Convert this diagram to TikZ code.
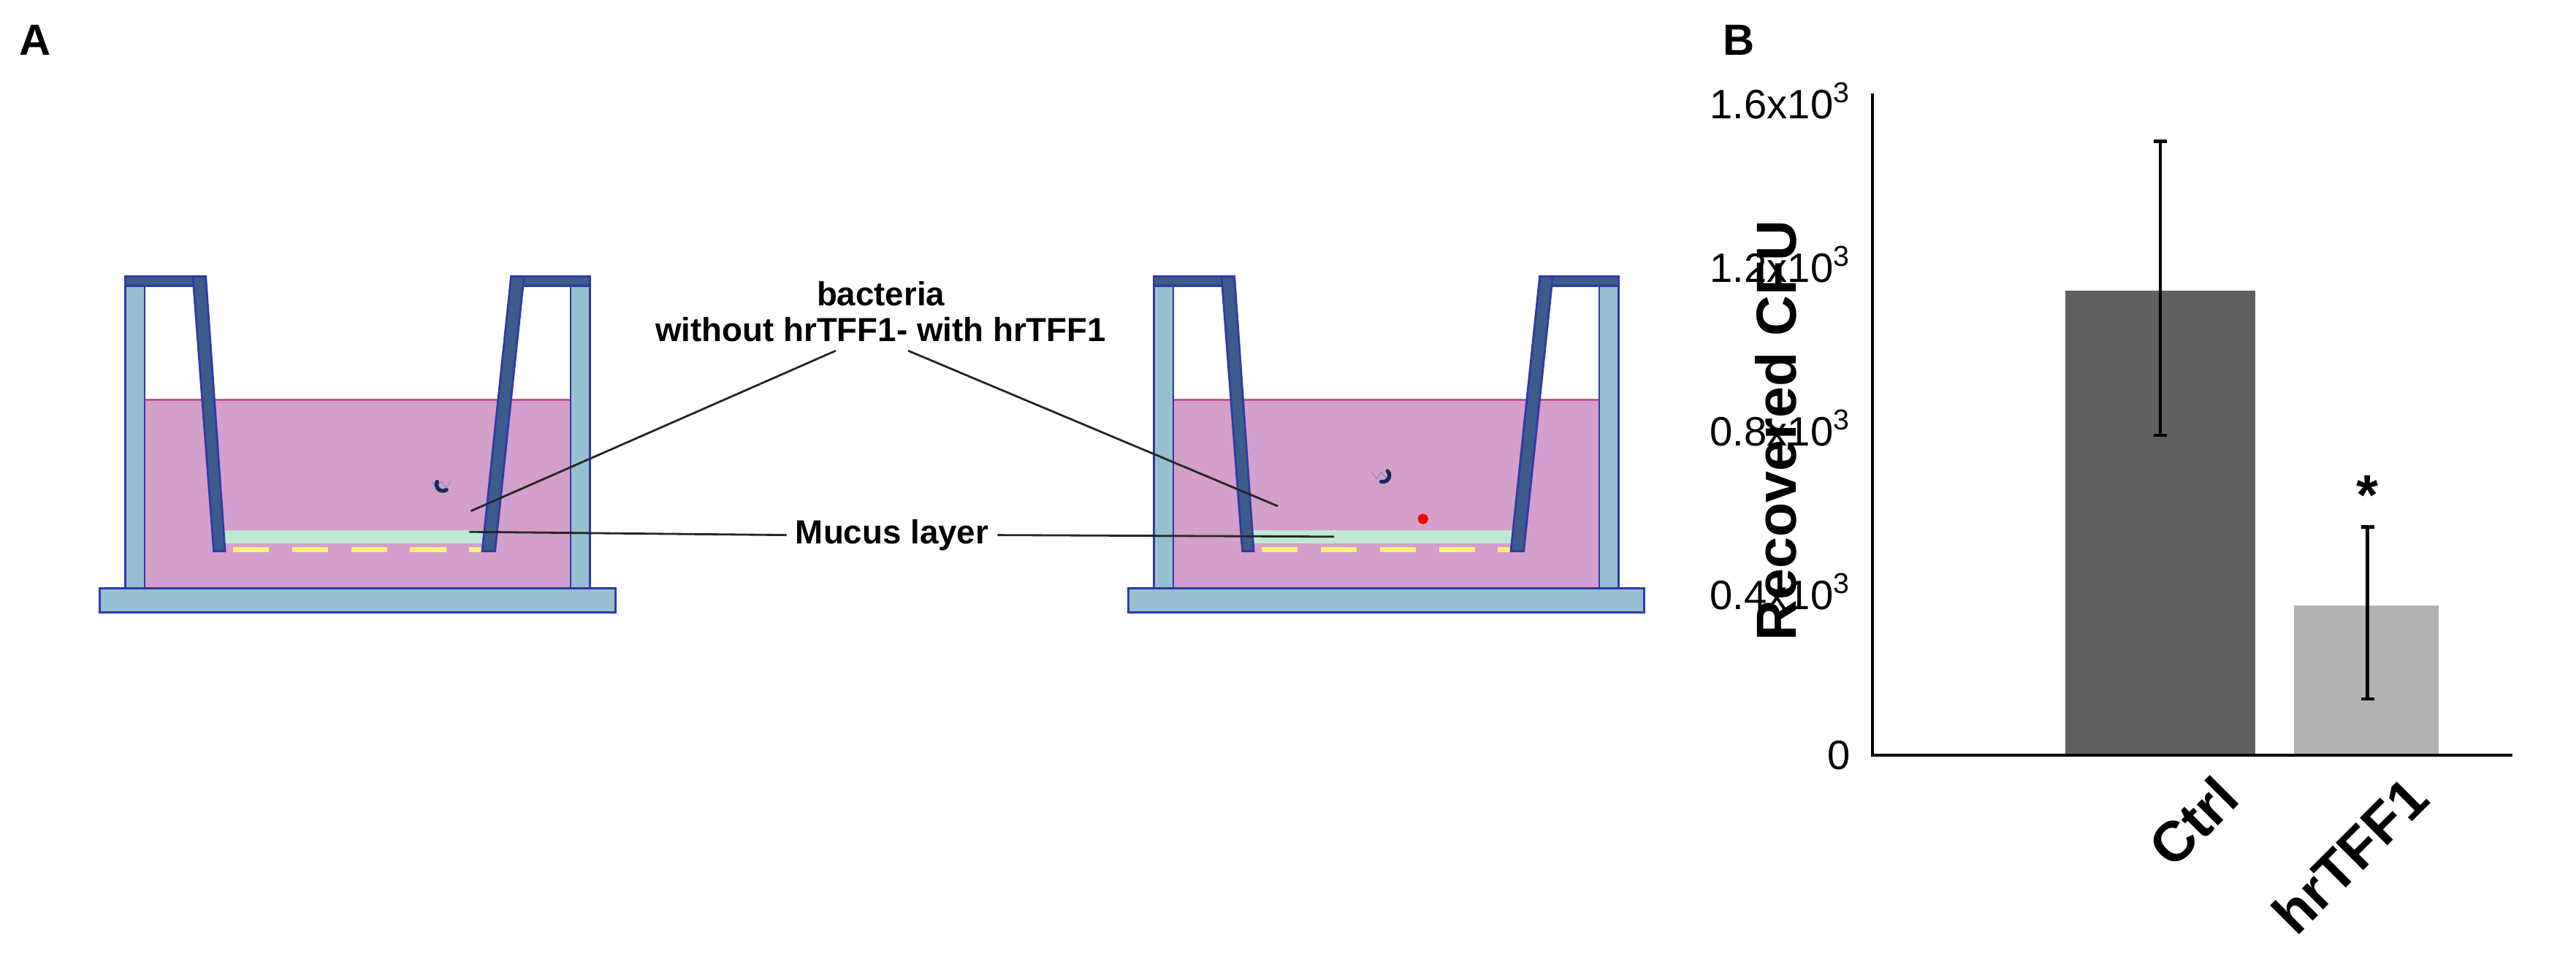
\documentclass[tikz,border=0pt]{standalone}
\usepackage{fontspec}
\setmainfont{Liberation Sans}
\usetikzlibrary{positioning, calc}
\definecolor{wallcolor}{HTML}{95C0D0}
\definecolor{edgecolor}{HTML}{3238A8}
\definecolor{insertcolor}{HTML}{3C5C8C}
\definecolor{mediumcolor}{HTML}{D49FCB}
\definecolor{mediumedge}{HTML}{C5508F}
\definecolor{mucuscolor}{HTML}{C0E8D4}
\definecolor{filtercolor}{HTML}{FFF27A}
\definecolor{bactcolor}{HTML}{14285A}
\definecolor{ctrlcolor}{HTML}{606060}
\definecolor{tffcolor}{HTML}{B3B3B3}
\tikzset{
  wall/.style={fill=wallcolor, draw=edgecolor, line width=0.8pt},
  insert_wall/.style={fill=insertcolor, draw=edgecolor, line width=0.8pt},
  medium/.style={fill=mediumcolor, draw=mediumedge, line width=0.8pt},
  mucus/.style={fill=mucuscolor},
  filter_line/.style={draw=filtercolor, line width=2.2pt, dash pattern=on 14pt off 9pt},
  bact/.style={draw=bactcolor, line width=1.5pt, line cap=round},
  fuzz/.style={draw=edgecolor!60, line width=0.3pt},
  tff_dot/.style={circle, fill=red, inner sep=0pt, minimum size=4pt},
  label_text/.style={font=\fontsize{13}{15}\selectfont\bfseries, align=center},
  panel_tag/.style={font=\fontsize{17}{20}\selectfont\bfseries},
  tick_label/.style={font=\fontsize{16}{18}\selectfont, anchor=east},
  axis_label/.style={font=\fontsize{22}{24}\selectfont\bfseries},
  leader/.style={draw=black!85, line width=0.8pt},
  chart_axis/.style={draw=black, line width=1.3pt},
  err_bar/.style={draw=black, line width=1.3pt}
}
\begin{document}
\begin{tikzpicture}[x=0.022cm, y=-0.022cm]
\useasboundingbox (0,0) rectangle (1602.7,601.8);
% panel tags
\node[panel_tag] (tag_a) at (22,25) {A};
\node[panel_tag] (tag_b) at (1082,25) {B};
% two transwell inserts
\foreach \dx/\nm in {0/left, 640/right} {
\begin{scope}[shift={(\dx,0)}]
\path[medium] (90,249) rectangle (355,366);
\path[wall] (62,366) rectangle (383,381);
\path[wall] (78,178) rectangle (90,366);
\path[wall] (355,178) rectangle (367,366);
\path[mucus] (139,330) rectangle (302,338);
\draw[filter_line] (145,342) -- (300,342);
\path[insert_wall] (78,172) rectangle (128,178);
\path[insert_wall] (318,172) rectangle (367,178);
\path[insert_wall] (120,172) -- (128,172) -- (140,343) -- (133,343) -- cycle;
\path[insert_wall] (318,172) -- (326,172) -- (308,343) -- (300,343) -- cycle;
\end{scope}
}
% bacteria, left well
\pgfmathsetseed{7}
\foreach \i in {1..34} {
  \pgfmathsetmacro{\bx}{148+146*rnd}
  \pgfmathsetmacro{\by}{298+26*rnd}
  \pgfmathsetmacro{\ba}{360*rnd}
  \draw[fuzz] (\bx-7,\by-2) -- (\bx-4,\by+2) -- (\bx-1,\by-2) -- (\bx+2,\by+2) -- (\bx+5,\by-2);
  \draw[bact] ($(\bx,\by)+(\ba:4)$) arc[start angle=\ba, delta angle=150, radius=4];
}
% bacteria, right well
\foreach \i in {1..70} {
  \pgfmathsetmacro{\bx}{784+162*rnd}
  \pgfmathsetmacro{\by}{292+34*rnd}
  \pgfmathsetmacro{\ba}{360*rnd}
  \draw[fuzz] (\bx-7,\by-2) -- (\bx-4,\by+2) -- (\bx-1,\by-2) -- (\bx+2,\by+2) -- (\bx+5,\by-2);
  \draw[bact] ($(\bx,\by)+(\ba:4)$) arc[start angle=\ba, delta angle=150, radius=4];
}
\foreach \i in {1..16} {
  \pgfmathsetmacro{\bx}{790+150*rnd}
  \pgfmathsetmacro{\by}{296+28*rnd}
  \node[tff_dot] (tff_\i) at (\bx,\by) {};
}
% labels and leader lines
\node[label_text] (bact_title) at (548,183) {bacteria};
\node[label_text] (bact_sub) at (548,205) {without hrTFF1- with hrTFF1};
\node[label_text] (mucus_label) at (555,333) {Mucus layer};
\coordinate (bact_left) at (293,318);
\coordinate (bact_right) at (795,315);
\coordinate (mucus_left) at (292,331);
\coordinate (mucus_right) at (830,334);
\draw[leader] ($(bact_sub.south)+(-28,0)$) -- (bact_left);
\draw[leader] ($(bact_sub.south)+(17,0)$) -- (bact_right);
\draw[leader] (mucus_label.west) -- (mucus_left);
\draw[leader] (mucus_label.east) -- (mucus_right);
% bar chart
\coordinate (origin) at (1165,470);
\coordinate (y_top) at (1165,58);
\coordinate (x_end) at (1563,470);
\path[fill=ctrlcolor] (1285,181) rectangle (1403,470);
\path[fill=tffcolor] (1427,377) rectangle (1517,470);
\draw[chart_axis] (y_top) -- (origin) -- (x_end);
\foreach \v/\t in {0/0, 0.4/0.4x10\textsuperscript{3}, 0.8/0.8x10\textsuperscript{3}, 1.2/1.2x10\textsuperscript{3}, 1.6/1.6x10\textsuperscript{3}}
  \node[tick_label] at (1157,{470-254.4*\v}) {\t};
\coordinate (ctrl_hi) at (1344,88);
\coordinate (ctrl_lo) at (1344,271);
\coordinate (tff_hi) at (1473,328);
\coordinate (tff_lo) at (1473,435);
\draw[err_bar] (ctrl_hi) -- (ctrl_lo);
\draw[err_bar] ($(ctrl_hi)+(-4,0)$) -- ($(ctrl_hi)+(4,0)$);
\draw[err_bar] ($(ctrl_lo)+(-4,0)$) -- ($(ctrl_lo)+(4,0)$);
\draw[err_bar] (tff_hi) -- (tff_lo);
\draw[err_bar] ($(tff_hi)+(-4,0)$) -- ($(tff_hi)+(4,0)$);
\draw[err_bar] ($(tff_lo)+(-4,0)$) -- ($(tff_lo)+(4,0)$);
\node[axis_label] (star) at (1473,308) {*};
\node[axis_label, rotate=90] (y_label) at (1105,268) {Recovered CFU};
\node[axis_label, rotate=45, anchor=east] (ctrl_label) at (1390,486) {Ctrl};
\node[axis_label, rotate=45, anchor=east] (tff_label) at (1508,486) {hrTFF1};
\end{tikzpicture}
\end{document}
